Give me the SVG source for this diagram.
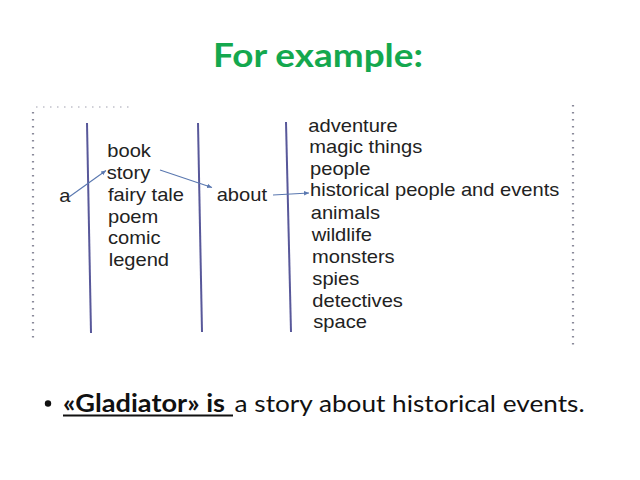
<svg xmlns="http://www.w3.org/2000/svg" width="640" height="480" viewBox="0 0 640 480">
<style>
.title{font-family:Lato,"Open Sans","Liberation Sans",sans-serif;font-weight:bold;font-size:32px;fill:#14a84e}
.w{font-family:"Liberation Sans",Arial,sans-serif;font-size:17.5px;fill:#222}
.sep{stroke:#58589a;stroke-width:2;fill:none}
.dot{stroke:#8a8a9a;stroke-width:2.2;stroke-dasharray:1.5 5.5;fill:none}
.con{stroke:#5a78b0;stroke-width:1.1;fill:none;marker-end:url(#ah)}
.body{font-family:Lato,"Open Sans","Liberation Sans",sans-serif;font-size:24px;fill:#111}
</style>
<defs>
<marker id="ah" markerWidth="6" markerHeight="6" refX="5" refY="3" orient="auto" markerUnits="userSpaceOnUse">
<path d="M0,0.8 L5,3 L0,5.2 Z" fill="#5a78b0"/>
</marker>
</defs>
<rect width="640" height="480" fill="#fff"/>
<text class="title" x="213" y="67" textLength="210" lengthAdjust="spacingAndGlyphs">For example:</text>
<g id="photo">
<path class="dot" d="M33,112 V342"/>
<path class="dot" d="M36,107 H130" stroke-opacity="0.4"/>
<path class="dot" d="M573,105 V346"/>
<path class="sep" d="M87,123 L91,333"/>
<path class="sep" d="M198,123 L202,332"/>
<path class="sep" d="M286,122 L291,332"/>
</g>
<g transform="scale(1.15 1)">
<g id="node-a"><text class="w" x="51.6" y="202">a</text></g>
<g id="col1">
<text class="w" x="93.3" y="157.3">book</text>
<text class="w" x="92.8" y="179.5">story</text>
<text class="w" x="93.9" y="201">fairy tale</text>
<text class="w" x="93.9" y="222.7">poem</text>
<text class="w" x="93.9" y="244.3">comic</text>
<text class="w" x="94.5" y="266">legend</text>
</g>
<g id="node-about"><text class="w" x="188.4" y="201">about</text></g>
<g id="col3">
<text class="w" x="268.1" y="131.7">adventure</text>
<text class="w" x="269.0" y="153">magic things</text>
<text class="w" x="269.6" y="175">people</text>
<text class="w" x="269.6" y="196">historical people and events</text>
<text class="w" x="270.2" y="219">animals</text>
<text class="w" x="271.0" y="241">wildlife</text>
<text class="w" x="271.3" y="263">monsters</text>
<text class="w" x="271.6" y="285">spies</text>
<text class="w" x="271.6" y="307">detectives</text>
<text class="w" x="272.4" y="328.5">space</text>
</g>
</g>
<g id="connectors">
<path class="con" d="M69,197 L106,170.5"/>
<path class="con" d="M160,170 L212,187.5"/>
<path class="con" d="M273,195 L309,193"/>
</g>
<g id="caption">
<circle cx="48" cy="403.5" r="3.2" fill="#111"/>
<text class="body" x="63" y="411.5" font-weight="bold" textLength="162" lengthAdjust="spacingAndGlyphs">«Gladiator» is</text>
<text class="body" x="234.6" y="411.5" textLength="350" lengthAdjust="spacingAndGlyphs">a story about historical events.</text>
<rect x="63" y="414.5" width="170" height="2" fill="#111"/>
</g>
</svg>
